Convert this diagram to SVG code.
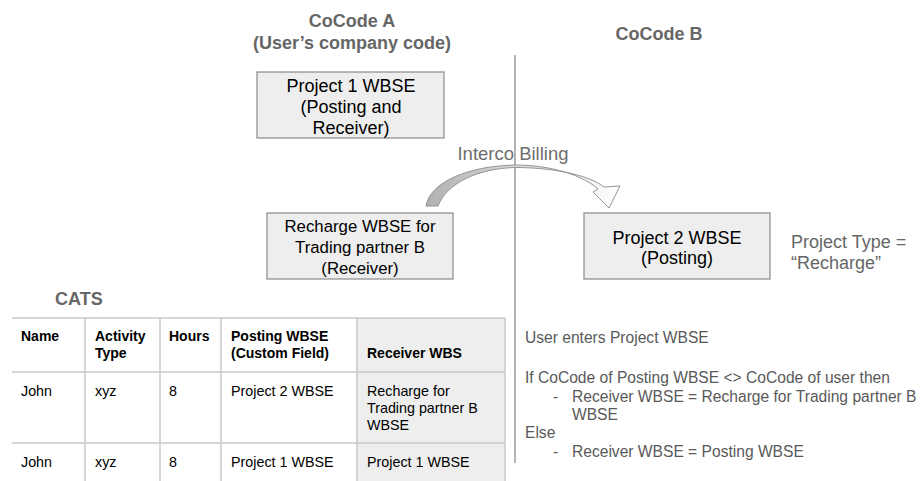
<svg xmlns="http://www.w3.org/2000/svg" width="920" height="481" viewBox="0 0 920 481">
<defs>
<linearGradient id="arrGrad" x1="426" y1="0" x2="620" y2="0" gradientUnits="userSpaceOnUse">
<stop offset="0" stop-color="#b0b0b0"/>
<stop offset="0.45" stop-color="#d8d8d8"/>
<stop offset="1" stop-color="#ffffff"/>
</linearGradient>
</defs>
<style>
text{font-family:"Liberation Sans",Arial,sans-serif}
.head{font-size:18px;font-weight:bold;fill:#666666}
.box{fill:#eeeeee;stroke:#8a8a8a;stroke-width:1.2}
.bt{font-size:18px;fill:#000000;text-anchor:middle}
.gray{fill:#666666}
.th{font-size:14px;font-weight:bold;fill:#000000}
.td{font-size:14.3px;fill:#000000}
.tl{stroke:#c8c8c8;stroke-width:1.5;fill:none}
.rt{font-size:15.6px;fill:#595959}
</style>
<rect width="920" height="481" fill="#ffffff"/>

<g id="headings">
<text class="head" x="352" y="27" text-anchor="middle">CoCode A</text>
<text class="head" x="352" y="49" text-anchor="middle">(User’s company code)</text>
<text class="head" x="659" y="40" text-anchor="middle">CoCode B</text>
</g>

<g id="divider">
<line x1="515" y1="55" x2="515" y2="463" stroke="#9a9a9a" stroke-width="1.5"/>
</g>

<g id="project1">
<rect class="box" x="257" y="72" width="187" height="66"/>
<text class="bt" x="351" y="92">Project 1 WBSE</text>
<text class="bt" x="351" y="113">(Posting and</text>
<text class="bt" x="351" y="134">Receiver)</text>
</g>

<g id="recharge">
<rect class="box" x="267" y="213" width="186" height="66"/>
<text class="bt" x="360" y="232" style="font-size:16.8px">Recharge WBSE for</text>
<text class="bt" x="360" y="253" style="font-size:16.8px">Trading partner B</text>
<text class="bt" x="360" y="274" style="font-size:16.8px">(Receiver)</text>
</g>

<g id="project2">
<rect class="box" x="584" y="213" width="186" height="66"/>
<text class="bt" x="677" y="244">Project 2 WBSE</text>
<text class="bt" x="677" y="264">(Posting)</text>
</g>

<g id="projectType">
<text class="gray" x="791" y="248" style="font-size:18px">Project Type =</text>
<text class="gray" x="791" y="269" style="font-size:18px">“Recharge”</text>
</g>

<g id="connectors">
<path d="M426,206 C430,182 468,166 515,165 C552,165 584,176 598,189 L593,192 L609,208 L620,186 L604,187 C589,175 553,167.5 515,167.5 C478,168.5 447,183 438,206 Z" fill="url(#arrGrad)" stroke="#8a8a8a" stroke-width="0.9" stroke-linejoin="miter"/>
<text x="513" y="160" text-anchor="middle" style="font-size:18.5px;fill:#6e6e6e">Interco Billing</text>
</g>

<g id="cats">
<text class="head" x="55" y="305">CATS</text>
<rect x="357" y="318" width="148" height="163" fill="#eeeeee"/>
<line class="tl" x1="12" y1="318" x2="505" y2="318"/>
<line class="tl" x1="12" y1="372" x2="505" y2="372"/>
<line class="tl" x1="12" y1="443" x2="505" y2="443"/>
<line class="tl" x1="85" y1="318" x2="85" y2="481"/>
<line class="tl" x1="160" y1="318" x2="160" y2="481"/>
<line class="tl" x1="221" y1="318" x2="221" y2="481"/>
<line class="tl" x1="357" y1="318" x2="357" y2="481"/>
<line class="tl" x1="505" y1="318" x2="505" y2="481"/>
<text class="th" x="21" y="341">Name</text>
<text class="th" x="95" y="341">Activity</text>
<text class="th" x="95" y="358">Type</text>
<text class="th" x="169" y="341">Hours</text>
<text class="th" x="231" y="341">Posting WBSE</text>
<text class="th" x="231" y="358">(Custom Field)</text>
<text class="th" x="367" y="358">Receiver WBS</text>
<text class="td" x="21" y="396">John</text>
<text class="td" x="95" y="396">xyz</text>
<text class="td" x="169" y="396">8</text>
<text class="td" x="231" y="396">Project 2 WBSE</text>
<text class="td" x="367" y="396">Recharge for</text>
<text class="td" x="367" y="413">Trading partner B</text>
<text class="td" x="367" y="430">WBSE</text>
<text class="td" x="21" y="467">John</text>
<text class="td" x="95" y="467">xyz</text>
<text class="td" x="169" y="467">8</text>
<text class="td" x="231" y="467">Project 1 WBSE</text>
<text class="td" x="367" y="467">Project 1 WBSE</text>
</g>

<g id="logic">
<text class="rt" x="525" y="343">User enters Project WBSE</text>
<text class="rt" x="525" y="383">If CoCode of Posting WBSE &lt;&gt; CoCode of user then</text>
<text class="rt" x="553" y="402">-</text>
<text class="rt" x="572" y="402">Receiver WBSE = Recharge for Trading partner B</text>
<text class="rt" x="572" y="420">WBSE</text>
<text class="rt" x="525" y="438">Else</text>
<text class="rt" x="553" y="457">-</text>
<text class="rt" x="572" y="457">Receiver WBSE = Posting WBSE</text>
</g>
</svg>
